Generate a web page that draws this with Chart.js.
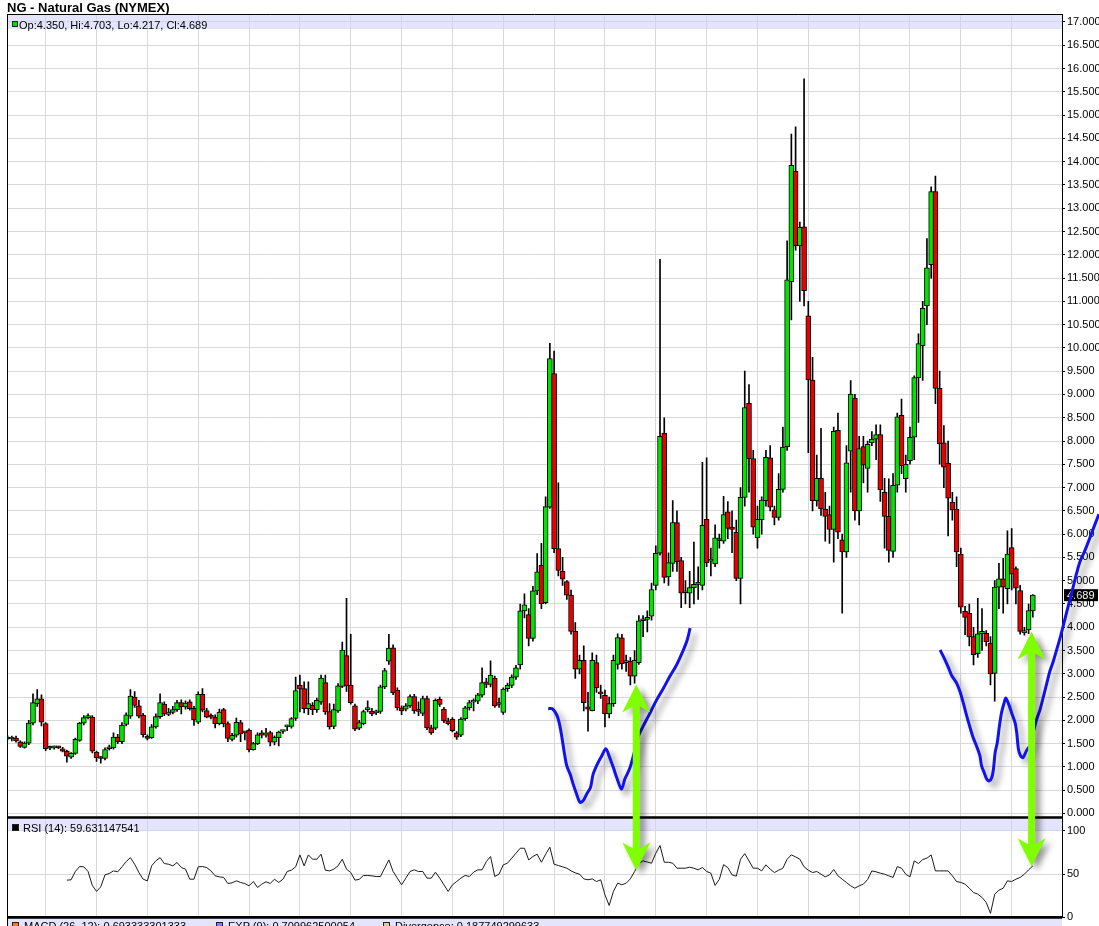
<!DOCTYPE html>
<html>
<head>
<meta charset="utf-8">
<title>NG - Natural Gas (NYMEX)</title>
<script src="https://cdn.jsdelivr.net/npm/chart.js@4.4.1/dist/chart.umd.min.js"></script>
<style>
  html, body { margin: 0; padding: 0; background: #fff; }
  #wrap { position: relative; width: 1099px; height: 926px; overflow: hidden; font-family: "Liberation Sans", Arial, sans-serif; color: #000; }
  canvas { position: absolute; left: 0; top: 0; }
  #title { position: absolute; left: 7px; top: 0; font-size: 13px; font-weight: bold; line-height: 15px; white-space: nowrap; }
  .txt { position: absolute; font-size: 11px; line-height: 12px; white-space: nowrap; }
  .sq { position: absolute; box-sizing: border-box; border: 1px solid #222; }
</style>
</head>
<body>
<div id="wrap">
  <canvas id="chart" width="1099" height="926"></canvas>
  <div id="title">NG - Natural Gas (NYMEX)</div>
  <div class="sq" style="left:12px;top:21px;width:6px;height:6px;background:#00e000"></div>
  <div class="txt" id="ohlc" style="left:19px;top:18.5px"></div>
  <div class="sq" style="left:12px;top:824px;width:7px;height:7px;background:#000"></div>
  <div class="txt" id="rsiLabel" style="left:23px;top:821.5px"></div>
  <div class="sq" style="left:12px;top:922px;width:7px;height:7px;background:#ff7a00"></div>
  <div class="txt" style="left:24px;top:919.5px">MACD (26, 12): 0.693333301333</div>
  <div class="sq" style="left:216px;top:922px;width:7px;height:7px;background:#8a78ff"></div>
  <div class="txt" style="left:228px;top:919.5px">EXP (9): 0.709962500054</div>
  <div class="sq" style="left:383px;top:922px;width:7px;height:7px;background:#d8d09a"></div>
  <div class="txt" style="left:395px;top:919.5px">Divergence: 0.187749299633</div>
</div>
<script>
// monthly candles, first one is April 1990, last one June 2010
const opens = [
  1.64, 1.60, 1.62, 1.54, 1.42, 1.51, 1.94, 2.36, 2.46,
  1.93, 1.42, 1.41, 1.42, 1.39, 1.34, 1.21, 1.29, 1.57, 1.94, 2.06, 2.07,
  1.32, 1.19, 1.18, 1.39, 1.41, 1.64, 1.54, 1.91, 2.09, 2.50, 2.31, 2.11,
  1.66, 1.63, 1.86, 2.08, 2.35, 2.13, 2.17, 2.23, 2.38, 2.29, 2.40, 2.26,
  1.96, 2.56, 2.21, 2.10, 2.07, 1.93, 2.23, 1.93, 1.59, 1.68, 1.95, 1.74,
  1.79, 1.37, 1.50, 1.73, 1.68, 1.74, 1.53, 1.63, 1.76, 1.86, 1.87, 2.04,
  2.76, 2.68, 2.25, 2.32, 2.23, 2.39, 2.81, 2.19, 1.87, 2.20, 2.73, 3.39,
  2.75, 2.31, 1.83, 1.93, 2.23, 2.20, 2.16, 2.19, 2.72, 3.27, 3.56, 2.65,
  2.27, 2.24, 2.31, 2.51, 2.24, 2.15, 2.47, 1.84, 1.83, 2.45, 2.24, 1.99,
  2.03, 1.73, 1.68, 2.03, 2.27, 2.39, 2.41, 2.54, 2.83, 2.77, 2.90, 2.34,
  2.17, 2.68, 2.75, 2.93, 3.19, 4.35, 4.27, 3.76, 4.78, 5.33, 4.53, 6.58,
  9.45, 5.69, 5.20, 4.98, 4.69, 3.91, 3.10, 3.29, 2.29, 2.21, 3.24, 2.58,
  2.54, 2.14, 2.36, 3.20, 3.77, 3.24, 3.27, 2.95, 3.24, 4.14, 4.17, 4.24,
  4.90, 5.59, 8.17, 5.08, 5.37, 6.25, 5.43, 4.74, 4.73, 4.85, 4.92, 4.90,
  6.32, 5.42, 5.36, 5.90, 5.85, 6.48, 6.15, 6.04, 5.05, 6.79, 8.81, 7.62,
  5.92, 6.31, 6.72, 7.64, 6.52, 6.36, 6.96, 7.88, 11.42, 13.79, 12.19, 12.60,
  10.69, 9.31, 6.72, 7.20, 6.54, 6.42, 6.10, 8.23, 5.88, 5.62, 7.78, 8.92,
  6.50, 7.88, 7.41, 7.96, 8.04, 8.14, 6.90, 6.38, 5.63, 7.05, 8.55, 7.19,
  7.58, 8.08, 9.36, 10.05, 10.90, 11.79, 13.36, 9.13, 7.96, 7.52, 6.69, 6.54,
  5.57, 4.34, 4.30, 3.80, 3.43, 3.86, 3.87, 3.66, 3.01, 4.86, 5.04, 4.83,
  5.71, 5.26, 4.79, 3.88, 3.94, 4.350
];
const highs = [
  1.67, 1.66, 1.66, 1.56, 1.54, 2.00, 2.57, 2.66, 2.55,
  1.95, 1.45, 1.45, 1.44, 1.42, 1.36, 1.31, 1.62, 1.96, 2.10, 2.14, 2.10,
  1.34, 1.22, 1.41, 1.47, 1.73, 1.70, 1.95, 2.16, 2.66, 2.62, 2.43, 2.15,
  1.69, 1.91, 2.14, 2.57, 2.40, 2.26, 2.30, 2.43, 2.44, 2.42, 2.44, 2.30,
  2.61, 2.68, 2.26, 2.14, 2.12, 2.24, 2.26, 1.97, 1.72, 2.05, 2.00, 1.76,
  1.82, 1.53, 1.73, 1.78, 1.83, 1.77, 1.67, 1.77, 1.78, 1.90, 2.06, 2.93,
  2.97, 2.83, 2.83, 2.38, 2.48, 2.97, 2.97, 2.36, 2.35, 2.79, 3.68, 4.62,
  3.85, 2.35, 2.00, 2.22, 2.42, 2.26, 2.22, 2.76, 3.12, 3.85, 3.62, 2.70,
  2.31, 2.36, 2.55, 2.56, 2.40, 2.52, 2.52, 1.90, 2.46, 2.50, 2.28, 2.05,
  2.06, 1.76, 2.06, 2.30, 2.43, 2.46, 2.58, 3.13, 2.90, 3.28, 2.95, 2.48,
  2.70, 2.80, 2.98, 3.18, 4.50, 4.72, 4.40, 4.88, 5.58, 5.80, 6.80, 10.10,
  9.93, 7.10, 5.50, 5.00, 4.80, 4.10, 3.40, 3.60, 2.60, 3.45, 3.40, 2.76,
  2.65, 2.50, 3.40, 3.86, 3.85, 3.40, 3.35, 3.50, 4.25, 4.25, 4.35, 4.95,
  5.75, 11.90, 8.50, 5.60, 6.72, 6.50, 5.50, 5.00, 5.20, 5.83, 5.30, 7.54,
  7.64, 5.70, 6.20, 6.00, 6.81, 6.70, 6.50, 6.30, 7.00, 9.50, 9.21, 7.80,
  6.60, 6.80, 7.80, 7.90, 6.60, 7.30, 8.30, 12.30, 14.59, 14.75, 12.70, 15.78,
  11.00, 9.80, 7.70, 8.27, 6.90, 6.60, 8.30, 8.60, 6.00, 7.90, 9.30, 9.00,
  8.10, 8.10, 8.00, 8.20, 8.35, 8.35, 7.20, 7.19, 7.30, 8.60, 8.90, 7.70,
  8.30, 9.40, 10.30, 11.00, 12.35, 13.46, 13.69, 9.50, 8.33, 8.00, 6.90, 6.80,
  5.70, 4.45, 4.50, 4.00, 4.62, 4.40, 3.93, 3.80, 5.00, 5.37, 5.48, 6.07,
  6.12, 5.30, 4.90, 4.00, 4.50, 4.703
];
const lows = [
  1.58, 1.56, 1.53, 1.42, 1.40, 1.48, 1.90, 2.30, 1.88,
  1.35, 1.37, 1.38, 1.39, 1.32, 1.10, 1.18, 1.27, 1.55, 1.90, 2.03, 1.30,
  1.12, 1.08, 1.15, 1.36, 1.38, 1.50, 1.50, 1.88, 2.04, 2.28, 2.05, 1.64,
  1.58, 1.61, 1.83, 2.04, 2.10, 2.10, 2.14, 2.19, 2.14, 2.24, 2.22, 1.89,
  1.93, 2.18, 2.05, 2.03, 1.84, 1.90, 1.86, 1.54, 1.56, 1.64, 1.54, 1.58,
  1.32, 1.36, 1.48, 1.62, 1.64, 1.45, 1.47, 1.45, 1.72, 1.78, 1.83, 2.00,
  2.18, 2.16, 2.12, 2.12, 2.17, 2.34, 2.13, 1.81, 1.82, 2.17, 2.70, 2.62,
  2.35, 1.78, 1.80, 1.90, 2.18, 2.10, 2.12, 2.15, 2.68, 3.20, 2.55, 2.22,
  2.12, 2.20, 2.28, 2.15, 2.10, 2.10, 1.80, 1.70, 1.80, 2.30, 1.95, 1.90,
  1.75, 1.59, 1.65, 2.00, 2.22, 2.20, 2.36, 2.50, 2.70, 2.72, 2.28, 2.28,
  2.13, 2.62, 2.70, 2.88, 3.10, 4.20, 3.60, 3.70, 4.70, 4.40, 4.50, 6.55,
  5.60, 5.10, 4.90, 4.60, 3.85, 2.90, 3.00, 2.20, 1.77, 2.20, 2.60, 2.47,
  1.86, 2.05, 2.30, 3.10, 3.10, 3.05, 2.76, 2.80, 3.20, 3.80, 3.90, 4.15,
  4.80, 5.55, 4.95, 4.90, 5.20, 5.20, 4.42, 4.50, 4.42, 4.50, 4.60, 4.80,
  5.30, 5.10, 5.30, 5.70, 5.80, 5.90, 5.60, 5.00, 4.50, 6.60, 6.90, 6.00,
  5.70, 6.00, 6.60, 6.50, 6.20, 6.30, 6.90, 7.80, 10.60, 12.10, 11.00, 10.90,
  7.75, 6.50, 6.60, 6.40, 5.85, 5.80, 5.40, 5.90, 4.30, 5.50, 6.90, 6.30,
  6.20, 7.10, 6.90, 7.90, 7.60, 6.70, 5.70, 5.40, 5.50, 6.90, 7.30, 6.90,
  7.50, 7.60, 8.40, 9.30, 10.50, 11.50, 8.80, 7.50, 7.00, 5.96, 6.30, 5.30,
  4.30, 3.84, 3.60, 3.19, 3.35, 3.50, 3.60, 2.76, 2.41, 4.40, 4.30, 4.50,
  4.80, 4.50, 3.85, 3.83, 3.86, 4.217
];
const closes = [
  1.60, 1.62, 1.56, 1.44, 1.51, 1.94, 2.38, 2.46, 1.96,
  1.39, 1.40, 1.42, 1.41, 1.34, 1.23, 1.29, 1.59, 1.94, 2.06, 2.10, 1.34,
  1.20, 1.18, 1.37, 1.43, 1.64, 1.54, 1.90, 2.12, 2.52, 2.32, 2.09, 1.69,
  1.61, 1.86, 2.08, 2.38, 2.14, 2.18, 2.23, 2.38, 2.29, 2.37, 2.25, 2.01,
  2.56, 2.22, 2.07, 2.07, 1.93, 2.18, 1.93, 1.61, 1.68, 1.96, 1.71, 1.73,
  1.37, 1.50, 1.69, 1.68, 1.73, 1.53, 1.64, 1.75, 1.77, 1.88, 2.04, 2.64,
  2.67, 2.25, 2.36, 2.23, 2.43, 2.91, 2.18, 1.86, 2.23, 2.74, 3.51, 2.74,
  2.38, 1.81, 1.95, 2.19, 2.27, 2.14, 2.18, 2.72, 3.07, 3.55, 2.59, 2.27,
  2.20, 2.31, 2.51, 2.20, 2.19, 2.47, 1.84, 1.73, 2.43, 2.34, 1.99, 1.93,
  1.78, 1.64, 2.03, 2.27, 2.38, 2.41, 2.55, 2.81, 2.77, 2.97, 2.31, 2.35,
  2.67, 2.75, 2.93, 3.13, 4.35, 4.48, 3.76, 4.78, 5.19, 4.50, 6.59, 9.77,
  5.69, 5.22, 5.03, 4.69, 3.91, 3.10, 3.29, 2.38, 2.24, 3.29, 2.70, 2.57,
  2.14, 2.36, 3.29, 3.78, 3.22, 3.26, 2.95, 3.29, 4.14, 4.16, 4.19, 4.81,
  5.59, 8.10, 5.07, 5.39, 6.25, 5.41, 4.73, 4.75, 4.85, 4.92, 4.96, 6.19,
  5.38, 5.44, 5.92, 5.86, 6.42, 6.12, 6.10, 5.05, 6.79, 8.72, 7.62, 6.15,
  6.32, 6.73, 7.65, 6.58, 6.36, 6.96, 7.87, 11.46, 13.92, 12.19, 12.59, 11.23,
  9.31, 6.72, 7.20, 6.54, 6.38, 6.10, 8.21, 6.04, 5.62, 7.53, 9.01, 6.50,
  7.84, 7.48, 7.93, 8.04, 8.14, 6.95, 6.38, 5.65, 7.05, 8.52, 7.47, 7.50,
  8.08, 9.36, 10.09, 10.85, 11.72, 13.36, 9.13, 7.94, 7.44, 6.77, 6.52, 5.62,
  4.43, 4.21, 3.79, 3.41, 3.86, 3.91, 3.69, 3.00, 4.86, 5.04, 4.86, 5.57,
  5.14, 4.84, 3.91, 3.93, 4.36, 4.689
];

// RSI(14), first value sits on candle 14
const rsiFirst = 14;
const rsiValues = [
  43.1, 43.5, 53.1, 58.8, 58.5, 53.1, 37.0, 30.0, 35.4, 49.2, 50.8, 53.8,
  52.7, 58.5, 64.6, 69.2, 61.5, 51.9, 44.2, 42.3, 59.6, 65.4, 69.2, 62.3,
  61.5, 59.6, 63.5, 57.7, 55.8, 44.2, 44.2, 58.5, 58.8, 57.7, 53.8, 48.1,
  46.9, 46.2, 39.2, 40.0, 42.3, 40.4, 39.2, 36.5, 41.5, 34.6, 38.5, 41.2,
  39.2, 44.2, 40.4, 44.2, 53.1, 54.6, 58.5, 72.3, 59.6, 72.3, 67.3, 67.3,
  73.1, 54.6, 53.8, 55.8, 59.6, 67.3, 55.8, 51.9, 43.1, 44.0, 48.5, 48.5,
  48.0, 47.3, 47.3, 56.9, 66.5, 53.1, 45.4, 37.7, 45.4, 53.1, 55.0, 53.1,
  53.1, 45.4, 45.4, 52.3, 45.4, 37.7, 30.0, 37.7, 41.5, 45.4, 48.5, 47.3,
  52.3, 55.0, 55.0, 64.6, 70.4, 47.3, 50.0, 60.8, 62.7, 68.5, 74.2, 80.0,
  80.0, 66.5, 70.4, 73.1, 63.8, 73.1, 81.2, 61.5, 60.0, 58.5, 56.9, 53.8,
  51.5, 50.0, 44.6, 43.5, 44.6, 41.5, 43.5, 26.2, 13.8, 30.0, 39.6, 37.7,
  39.6, 44.6, 53.1, 62.7, 65.4, 64.0, 62.7, 74.2, 83.1, 63.8, 63.8, 62.7,
  56.9, 56.9, 56.9, 58.1, 56.9, 55.0, 57.7, 53.1, 51.2, 37.0, 44.0, 61.0,
  57.7, 49.2, 47.7, 67.3, 73.8, 65.4, 56.9, 56.9, 53.8, 60.8, 55.8, 51.9,
  54.6, 56.9, 67.3, 72.3, 70.0, 67.3, 58.5, 54.6, 51.9, 53.1, 50.0, 46.9,
  49.2, 55.4, 48.1, 44.2, 40.4, 36.5, 33.8, 36.5, 38.5, 43.8, 53.8, 52.7,
  51.2, 50.0, 48.1, 46.2, 58.8, 56.9, 50.0, 46.9, 65.4, 62.3, 66.9, 68.5,
  72.3, 53.8, 53.8, 53.8, 53.8, 48.1, 41.5, 40.4, 38.5, 33.8, 28.8, 26.9,
  23.1, 17.3, 4.6, 26.9, 31.5, 33.8, 42.3, 41.5, 44.2, 46.2, 50.0, 55.0,
  59.631147541
];

// axis ticks
const priceTicks = [0, 0.5, 1, 1.5, 2, 2.5, 3, 3.5, 4, 4.5, 5, 5.5, 6, 6.5, 7, 7.5, 8, 8.5,
  9, 9.5, 10, 10.5, 11, 11.5, 12, 12.5, 13, 13.5, 14, 14.5, 15, 15.5, 16, 16.5, 17];
const rsiTicks = [0, 50, 100];
const januaryCandles = [9, 21, 33, 45, 57, 69, 81, 93, 105, 117, 129, 141, 153, 165, 177, 189, 201, 213, 225, 237];

// hand drawn marks, in candle index / price units
const curve1Months = [127.6, 128.6, 129.6, 130.2, 130.8, 131.4, 132.0, 132.8, 133.5, 134.3, 135.1, 135.9,
  136.7, 137.6, 138.2, 139.2, 140.2, 141.2, 142.0, 143.0, 143.9, 144.9, 145.7, 146.9, 148.1, 148.9,
  150.0, 151.6, 153.2, 154.8, 156.3, 157.9, 159.5, 160.4, 161.1];
const curve1Prices = [2.25, 2.25, 2.12, 1.95, 1.66, 1.31, 1.02, 0.84, 0.63, 0.42, 0.24, 0.28,
  0.42, 0.56, 0.84, 1.06, 1.23, 1.39, 1.23, 0.98, 0.74, 0.52, 0.74, 0.98, 1.37, 1.66,
  1.87, 2.15, 2.44, 2.69, 2.94, 3.19, 3.51, 3.72, 3.98];
const curve2Months = [220.1, 220.9, 222.0, 222.8, 224.0, 224.8, 225.6, 226.4, 227.2, 227.9, 228.7, 229.5,
  229.9, 230.5, 231.1, 231.7, 232.3, 232.7, 233.1, 233.6, 234.1, 234.6, 235.2, 235.6, 236.2, 237.0,
  237.8, 238.2, 238.6, 239.1, 239.7, 240.5, 241.5, 242.1, 242.9, 243.7, 244.5, 245.3, 246.0, 246.8,
  247.6, 248.4, 249.2, 250.0, 250.8, 251.5, 252.3, 253.1, 254.3, 255.5, 256.7, 257.6];
const curve2Prices = [3.51, 3.37, 3.15, 2.97, 2.80, 2.62, 2.37, 2.09, 1.84, 1.63, 1.45, 1.24,
  1.02, 0.88, 0.74, 0.70, 0.77, 0.95, 1.31, 1.52, 1.87, 2.16, 2.37, 2.48, 2.37, 2.16,
  1.95, 1.73, 1.38, 1.24, 1.20, 1.35, 1.49, 1.74, 2.02, 2.23, 2.51, 2.80, 3.05, 3.26,
  3.51, 3.76, 4.04, 4.33, 4.61, 4.86, 5.15, 5.40, 5.65, 5.93, 6.22, 6.43];
const arrowMonths = [148.4, 241.7];
const arrowTopPrices = [2.77, 3.91];
const arrowBottomRsi = [54.3, 59.3];

const X_MIN = -0.134;
const X_MAX = 248.88;
const GREEN = '#00e400';
const RED = '#e60000';
const GRID = '#d9d9d9';
const BAND = 'rgba(205, 205, 250, 0.55)';
const LIME = '#80ff00';
const BLUE = '#1212ee';

const last = closes.length - 1;
document.getElementById('ohlc').textContent =
  'Op:' + opens[last].toFixed(3) + ', Hi:' + highs[last].toFixed(3) +
  ', Lo:' + lows[last].toFixed(3) + ', Cl:' + closes[last].toFixed(3);
document.getElementById('rsiLabel').textContent = 'RSI (14): ' + rsiValues[rsiValues.length - 1];

const wicks = closes.map((c, i) => ({ x: i, y: [lows[i], highs[i]] }));
const bodies = closes.map((c, i) => ({ x: i, y: [opens[i], c] }));
const bodyColors = closes.map((c, i) => (c >= opens[i] ? GREEN : RED));
const rsiPoints = rsiValues.map((v, k) => ({ x: rsiFirst + k, y: v }));
const curve1 = curve1Months.map((m, k) => ({ x: m, y: curve1Prices[k] }));
const curve2 = curve2Months.map((m, k) => ({ x: m, y: curve2Prices[k] }));

function drawArrow(ctx, x, yTop, yBot) {
  const hw = 14, hl = 28, sw = 3.5, notch = 22;
  ctx.beginPath();
  ctx.moveTo(x, yTop);
  ctx.lineTo(x + hw, yTop + hl);
  ctx.lineTo(x + sw, yTop + notch);
  ctx.lineTo(x + sw, yBot - notch);
  ctx.lineTo(x + hw, yBot - hl);
  ctx.lineTo(x, yBot);
  ctx.lineTo(x - hw, yBot - hl);
  ctx.lineTo(x - sw, yBot - notch);
  ctx.lineTo(x - sw, yTop + notch);
  ctx.lineTo(x - hw, yTop + hl);
  ctx.closePath();
  ctx.fill();
}

const panels = {
  id: 'panels',
  beforeDatasetsDraw(chart) {
    const { ctx, chartArea: a, scales: { y, y2 } } = chart;
    const w = a.right - a.left;
    ctx.save();
    // legend bands
    ctx.fillStyle = BAND;
    ctx.fillRect(a.left, a.top, w, 15);
    ctx.fillRect(a.left, y2.top + 1, w, y2.getPixelForValue(100) - y2.top - 1);
    ctx.fillRect(a.left, a.bottom + 1, w, chart.height - a.bottom);
    // frame
    ctx.strokeStyle = '#000';
    ctx.lineWidth = 1;
    ctx.beginPath();
    ctx.moveTo(a.left, a.top + 0.5);
    ctx.lineTo(a.right, a.top + 0.5);
    ctx.moveTo(a.left + 0.5, a.top);
    ctx.lineTo(a.left + 0.5, chart.height);
    ctx.stroke();
    ctx.lineWidth = 2.6;
    ctx.beginPath();
    ctx.moveTo(a.left, y.bottom);
    ctx.lineTo(a.right, y.bottom);
    ctx.moveTo(a.left, y2.bottom);
    ctx.lineTo(a.right, y2.bottom);
    ctx.stroke();
    // last price marker
    const py = y.getPixelForValue(closes[last]);
    ctx.fillStyle = '#000';
    ctx.fillRect(a.right + 2, py - 6, 34, 12);
    ctx.fillStyle = '#fff';
    ctx.font = '11px "Liberation Sans", Arial, sans-serif';
    ctx.textBaseline = 'middle';
    ctx.fillText(closes[last].toFixed(3), a.right + 5, py + 0.5);
    ctx.restore();
  },
  beforeDatasetDraw(chart, args) {
    if (!chart.data.datasets[args.index].dropShadow) return;
    const ctx = chart.ctx;
    ctx.save();
    ctx.shadowColor = 'rgba(0, 0, 0, 0.42)';
    ctx.shadowBlur = 6;
    ctx.shadowOffsetX = 5;
    ctx.shadowOffsetY = 5;
  },
  afterDatasetDraw(chart, args) {
    if (chart.data.datasets[args.index].dropShadow) chart.ctx.restore();
  },
  afterDatasetsDraw(chart) {
    const { ctx, scales: { x, y, y2 } } = chart;
    ctx.save();
    ctx.fillStyle = LIME;
    ctx.shadowColor = 'rgba(0, 0, 0, 0.42)';
    ctx.shadowBlur = 6;
    ctx.shadowOffsetX = 5;
    ctx.shadowOffsetY = 4;
    arrowMonths.forEach((m, k) => {
      drawArrow(ctx, x.getPixelForValue(m), y.getPixelForValue(arrowTopPrices[k]),
        y2.getPixelForValue(arrowBottomRsi[k]));
    });
    ctx.restore();
  }
};

Chart.defaults.font.family = '"Liberation Sans", Arial, sans-serif';
Chart.defaults.font.size = 11;
Chart.defaults.color = '#000';

const axisFont = { size: 11 };

new Chart(document.getElementById('chart'), {
  type: 'bar',
  data: {
    datasets: [
      {
        type: 'line', data: curve1, borderColor: BLUE, borderWidth: 3, pointRadius: 0,
        tension: 0.3, clip: false, dropShadow: true, order: 1, yAxisID: 'y'
      },
      {
        type: 'line', data: curve2, borderColor: BLUE, borderWidth: 3, pointRadius: 0,
        tension: 0.3, clip: false, dropShadow: true, order: 1, yAxisID: 'y'
      },
      {
        type: 'line', data: rsiPoints, borderColor: '#1a1a1a', borderWidth: 1, pointRadius: 0,
        tension: 0, order: 2, yAxisID: 'y2'
      },
      {
        data: bodies, backgroundColor: bodyColors, borderColor: '#000', borderWidth: 1,
        borderSkipped: false, barThickness: 5, minBarLength: 2, grouped: false, order: 3, yAxisID: 'y'
      },
      {
        data: wicks, backgroundColor: '#000', borderWidth: 0,
        barThickness: 1, grouped: false, order: 4, yAxisID: 'y'
      }
    ]
  },
  options: {
    responsive: false,
    devicePixelRatio: 1,
    animation: false,
    events: [],
    layout: { padding: { left: 7, top: 14, right: 0, bottom: 8 } },
    plugins: { legend: { display: false }, tooltip: { enabled: false } },
    scales: {
      x: {
        type: 'linear',
        bounds: 'data',
        offset: false,
        // range set here (not as min/max) so the line that runs past the last candle is not cut
        afterDataLimits: (s) => { s.min = X_MIN; s.max = X_MAX; },
        afterBuildTicks: (s) => {
          s.ticks = januaryCandles.map((v) => ({ value: v }));
          s.min = X_MIN;
          s.max = X_MAX;
        },
        afterFit: (s) => { s.height = 0; },
        ticks: { display: false },
        grid: { color: GRID, drawTicks: false, offset: false },
        border: { display: false }
      },
      y: {
        type: 'linear',
        position: 'right',
        stack: 'panels',
        stackWeight: 804,
        min: -0.0859,
        max: 17.1717,
        afterBuildTicks: (s) => { s.ticks = priceTicks.map((v) => ({ value: v })); },
        afterFit: (s) => { s.width = 37; },
        ticks: { callback: (v) => Number(v).toFixed(3), autoSkip: false, padding: 2, font: axisFont, color: '#000' },
        grid: { color: GRID, tickLength: 3, tickColor: '#000', tickWidth: 1 },
        border: { color: '#000', width: 1 }
      },
      y2: {
        type: 'linear',
        position: 'right',
        stack: 'panels',
        stackWeight: 100,
        min: 0,
        max: 115.6,
        afterBuildTicks: (s) => { s.ticks = rsiTicks.map((v) => ({ value: v })); },
        afterFit: (s) => { s.width = 37; },
        ticks: { autoSkip: false, padding: 2, font: axisFont, color: '#000' },
        grid: { color: GRID, tickLength: 3, tickColor: '#000', tickWidth: 1 },
        border: { color: '#000', width: 1 }
      }
    }
  },
  plugins: [panels]
});
</script>
</body>
</html>
